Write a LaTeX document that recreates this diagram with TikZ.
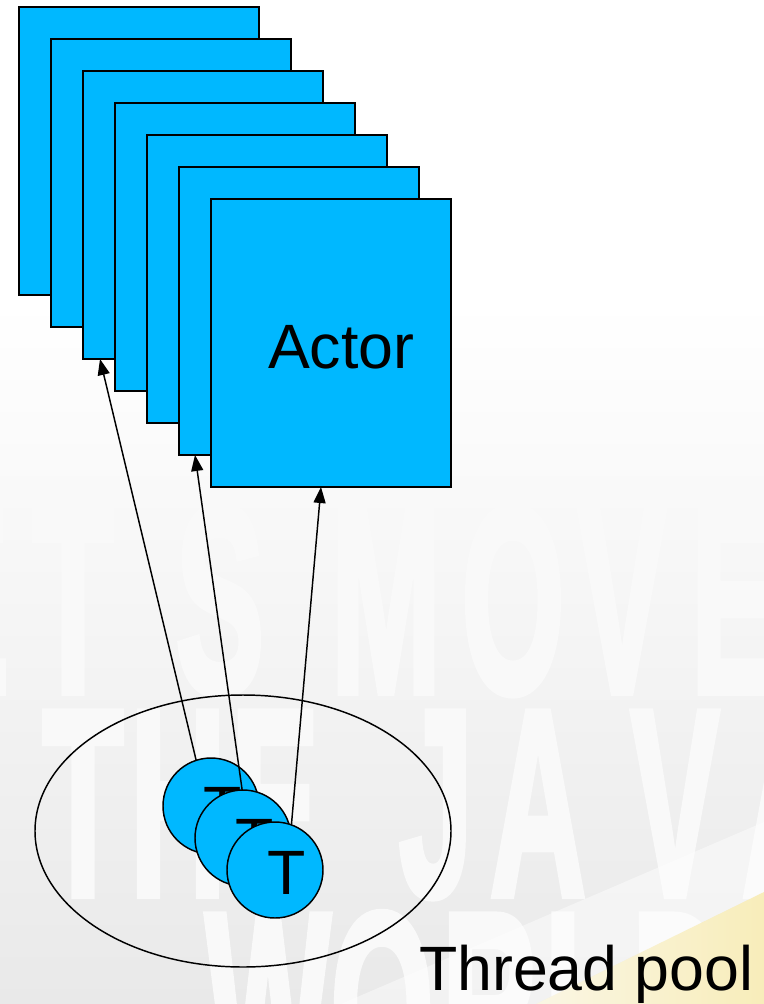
\documentclass[tikz,border=0pt]{standalone}
\usepackage{fontspec}
\setmainfont{Liberation Sans}
\newfontfamily\sloganfont[FakeBold=3]{Liberation Sans Bold}
\usetikzlibrary{arrows.meta,calc,shapes.geometric}

\definecolor{actorblue}{RGB}{0,184,255}
\definecolor{bgbottom}{RGB}{233,233,233}
\definecolor{slogan}{RGB}{249,249,249}
\definecolor{bandyellow}{RGB}{248,237,186}
\definecolor{bandpale}{RGB}{250,246,228}

\tikzset{
  actorbox/.style={draw=black, line width=1.5pt, fill=actorblue,
    minimum width=180pt, minimum height=216pt, inner sep=0pt, outer sep=0pt,
    anchor=north west},
  threadball/.style={circle, draw=black, line width=1.1pt, fill=actorblue,
    minimum size=72pt, inner sep=0pt, outer sep=0pt},
  poolring/.style={ellipse, draw=black, line width=1.1pt,
    minimum width=312pt, minimum height=204pt, inner sep=0pt, outer sep=0pt},
  bigtext/.style={font=\fontsize{47}{47}\selectfont, inner sep=0pt, outer sep=0pt, text=black},
  wm/.style={anchor=base, inner sep=0pt, text=slogan,
    font=\sloganfont\fontsize{199}{199}\selectfont},
  link/.style={line width=1.1pt, -{Triangle[length=12pt,width=9pt]}},
}

\begin{document}
\begin{tikzpicture}[x=0.75pt, y=-0.75pt]
\useasboundingbox (0,0) rectangle (764,1004);

% backdrop: white top fading to light grey, slogan lettering, light band
\begin{scope}
  \clip (0,0) rectangle (764,1004);
  \fill[white] (0,0) rectangle (764,300);
  \shade[top color=white, bottom color=bgbottom] (0,300) rectangle (764,1004);
  \foreach \x/\c [count=\i] in {-35/E,73/T,220/S,386/M,513/O,622/V,735/E}
    \node[wm] (wma\i) at (\x,692) {\scalebox{0.5}[1]{\c}};
  \foreach \x/\c [count=\i] in {83/T,178/H,275/E,436/J,538/A,675/V,790/A}
    \node[wm] (wmb\i) at (\x,895) {\scalebox{0.5}[1]{\c}};
  \foreach \x/\c [count=\i] in {268/W,382/O,490/R,585/L,680/D}
    \node[wm] (wmc\i) at (\x,1098) {\scalebox{0.5}[1]{\c}};
  \fill[white, opacity=0.45] (341,1004) -- (764,822) -- (764,892) -- (536,1004) -- cycle;
  \shade[left color=bandpale, right color=bandyellow] (536,1004) -- (764,892) -- (764,1004) -- cycle;
\end{scope}

% the pool
\node[poolring] (pool) at (243,831) {};

% stack of actors
\foreach \i in {1,...,7}
  \node[actorbox] (r\i) at ({19+32*(\i-1)},{7+32*(\i-1)}) {};
\node[bigtext, anchor=base west] (actorlbl) at (268,368) {Actor};

% threads
\node[threadball] (c1) at (211,806) {};
\node[bigtext] (t1) at ($(c1.center)+(12,3)$) {T};
\node[threadball] (c2) at (243,838) {};
\node[bigtext] (t2) at ($(c2.center)+(12,3)$) {T};
\node[threadball] (c3) at (275,870) {};
\node[bigtext] (t3) at ($(c3.center)+(12,3)$) {T};

% threads picking up actors
\coordinate (h1) at ($(r3.south west)+(17,0)$);
\coordinate (h2) at ($(r6.south west)+(16,0)$);
\coordinate (h3) at ($(r7.south west)+(110,0)$);
\draw[link] (c1.108) -- (h1);
\draw[link] (c2.91) -- (h2);
\draw[link] (c3.70) -- (h3);

\node[bigtext, anchor=base west] (poollbl) at (419,990) {Thread pool};
\end{tikzpicture}
\end{document}
